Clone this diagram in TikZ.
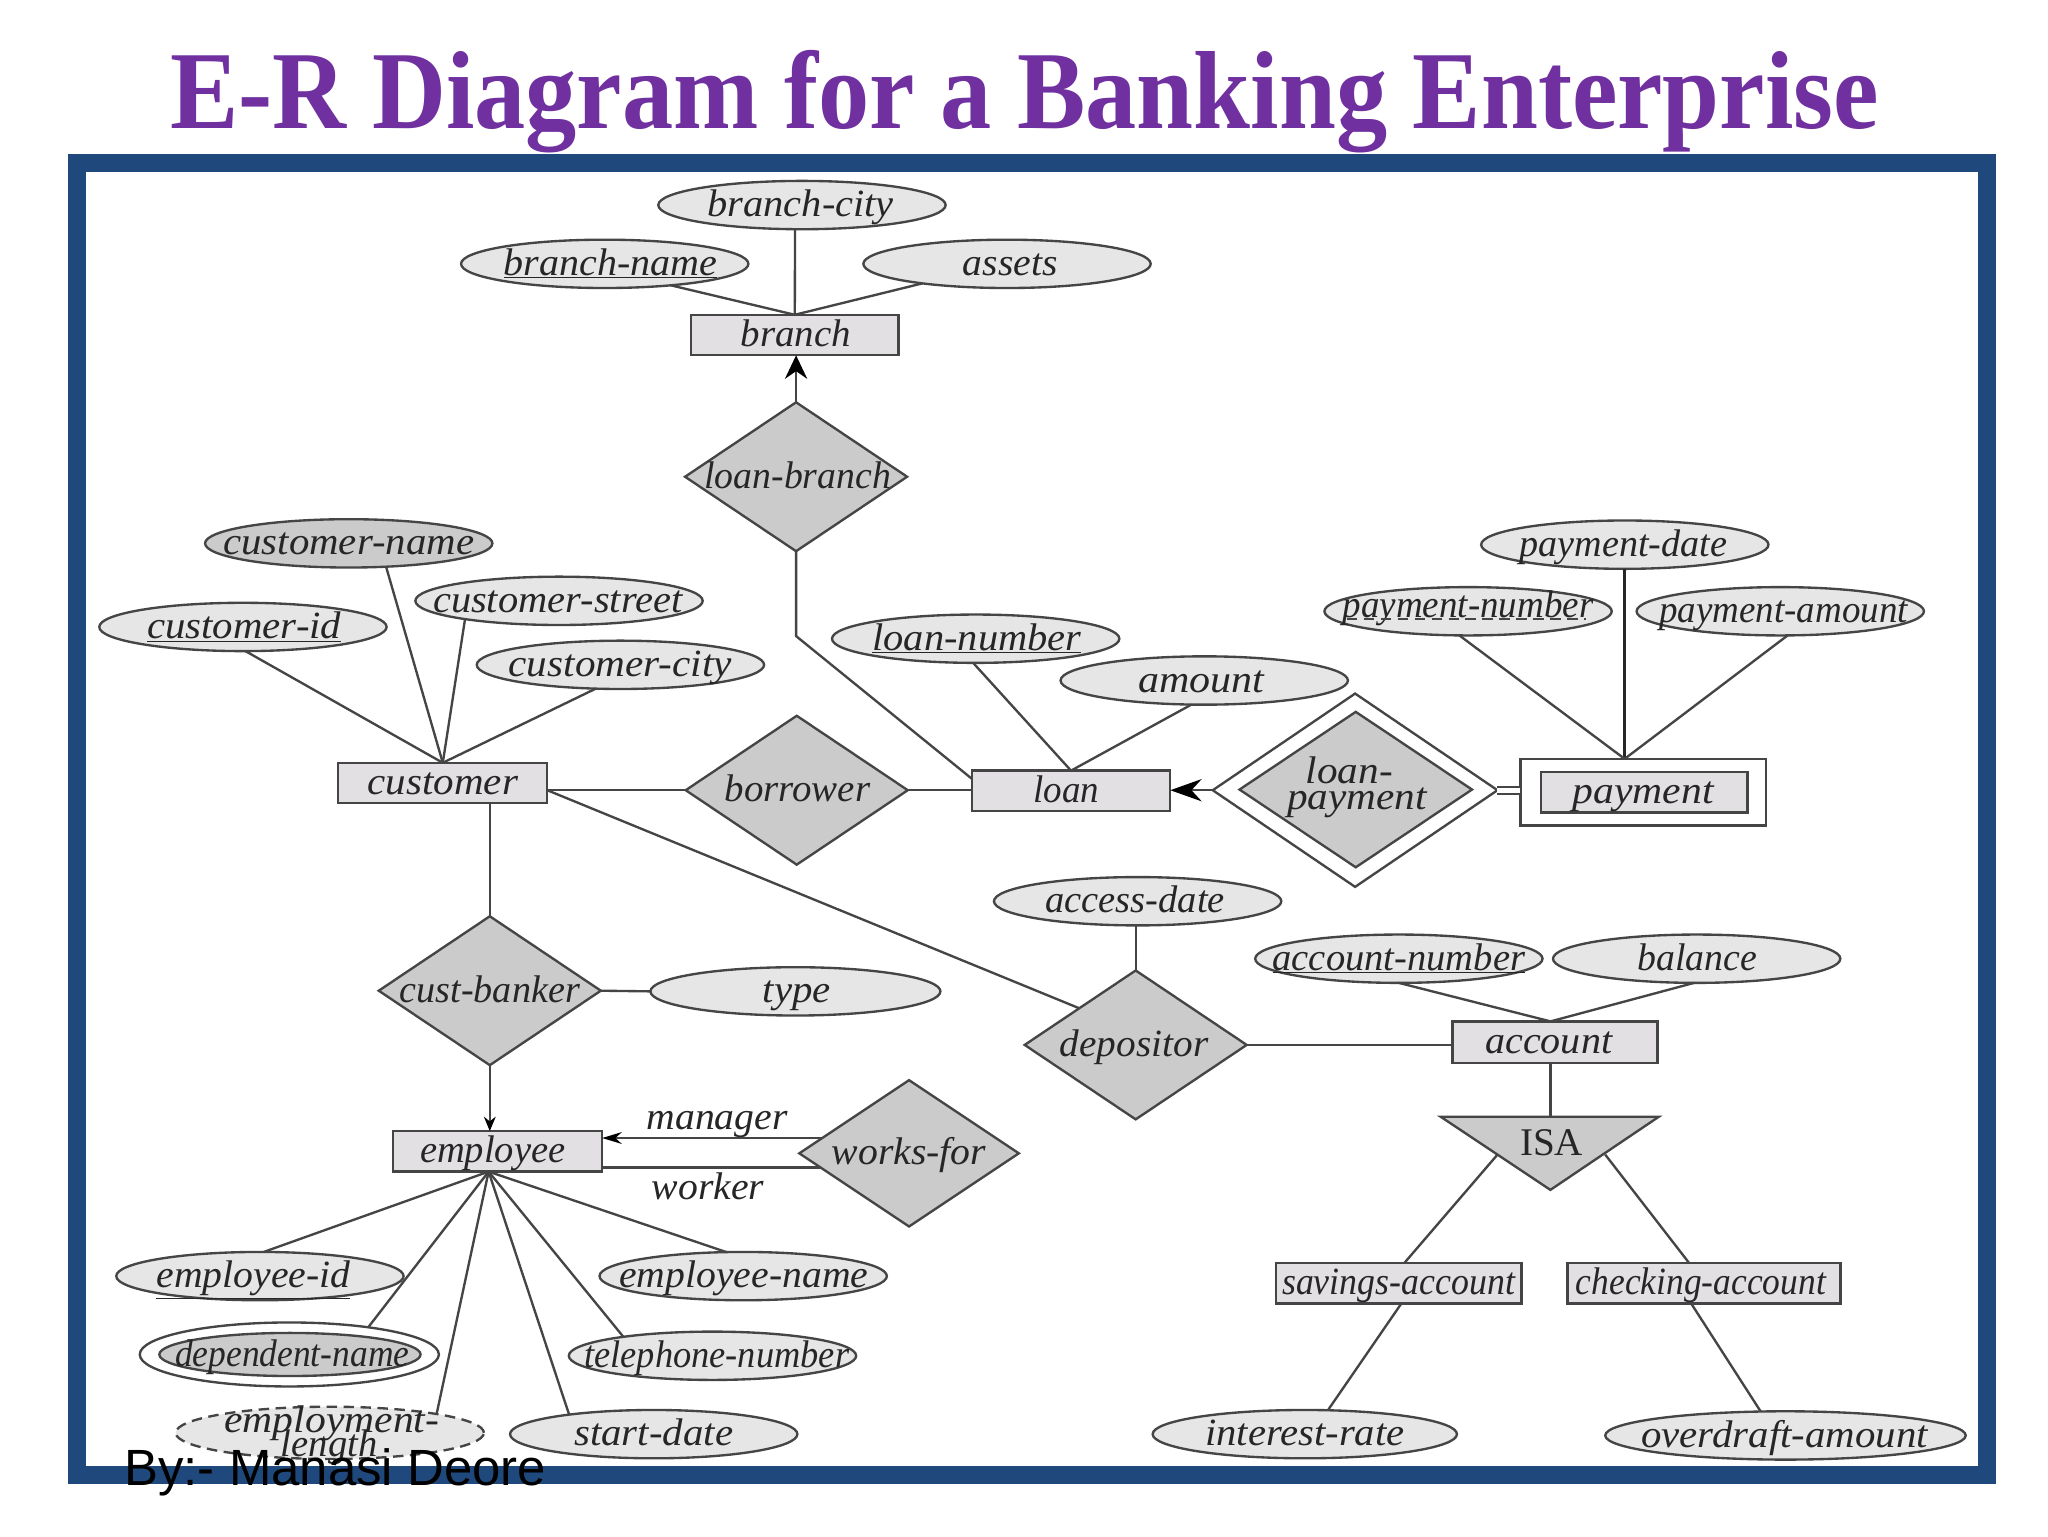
\documentclass[tikz,border=0pt]{standalone}
\usepackage{graphicx}
\usepackage{fontspec}
\setmainfont{Liberation Serif}
\newfontfamily\footfont{Liberation Sans}
\usetikzlibrary{shapes.geometric,arrows.meta,calc}
\definecolor{framecol}{HTML}{1F497D}
\definecolor{titlecol}{HTML}{7030A0}
\definecolor{inkcol}{HTML}{454545}
\definecolor{attrfill}{HTML}{E6E6E6}
\definecolor{entfill}{HTML}{E2E0E2}
\definecolor{relfill}{HTML}{CBCBCB}
% \tl[x offset]{horizontal scale}{text}: a label that adds nothing to the size of its node
\newcommand{\tl}[3][0pt]{\hskip#1\makebox[0pt]{\raisebox{-0.3em}[0pt][0pt]{\scalebox{#2}[1]{#3}}}\hskip-#1\relax}
\tikzset{
  x=1pt,y=-1pt,
  base/.style={draw=inkcol,line width=1.8pt,inner sep=0pt,outer sep=0pt,text=black!85,font=\fontsize{29.5}{22}\selectfont\itshape},
  attr/.style={base,ellipse,fill=attrfill,minimum width=220pt,minimum height=37pt},
  ent/.style={base,rectangle,fill=entfill,minimum height=31pt},
  rel/.style={base,diamond,fill=relfill,minimum width=170pt,minimum height=114pt},
  conn/.style={draw=inkcol,line width=1.8pt},
  longdash/.style={dash pattern=on 8pt off 5pt},
  cap1/.style={text=black!85,inner sep=0pt,font=\fontsize{29.5}{19}\selectfont\itshape},
}
\begin{document}
\begin{tikzpicture}
\useasboundingbox[fill=white] (0,0) rectangle (1568,1176);
\draw[line width=14pt,framecol] (59,125) rectangle (1521.5,1129.5);
\node[anchor=base,inner sep=0pt,text=titlecol,font=\fontsize{85}{90}\selectfont\bfseries] (title) at (784.5,98) {\scalebox{0.922}[1]{E-R Diagram for a Banking Enterprise}};

% attributes
\node[attr] (branchcity) at (614,157) {\tl[-2pt]{1.05}{branch-city}};
\node[attr] (branchname) at (463,202) {\tl[9pt]{1.04}{\underline{branch-name}}};
\node[attr] (assets) at (771,202) {\tl[5pt]{1.03}{assets}};
\node[attr,fill=relfill] (custname) at (267,416) {\tl{1.06}{customer-name}};
\node[attr] (custstreet) at (428,460) {\tl[-2pt]{1.05}{customer-street}};
\node[attr] (custid) at (186,480) {\tl[2pt]{1.06}{\underline{customer-id}}};
\node[attr] (custcity) at (475,509) {\tl{1.07}{customer-city}};
\node[attr] (loannum) at (747,489) {\tl[2pt]{1.05}{\underline{loan-number}}};
\node[attr] (amount) at (922,521) {\tl[-4pt]{1.09}{amount}};
\node[attr] (paydate) at (1244,417) {\tl[-2pt]{0.99}{payment-date}};
\node[attr] (paynum) at (1124,468) {\tl{0.96}{\raisebox{4pt}{payment-number}}};
\node[attr] (payamt) at (1363,468) {\tl[5pt]{0.96}{payment-amount}};
\node[attr] (access) at (871,690) {\tl[-4pt]{1}{access-date}};
\node[attr] (accnum) at (1071,734) {\tl{1}{\underline{account-number}}};
\node[attr] (balance) at (1299,734) {\tl[1pt]{0.98}{balance}};
\node[attr,minimum width=222pt] (type) at (609,759) {\tl[2pt]{1.06}{type}};
\node[attr] (empid) at (199,977) {\tl[-10pt]{1.03}{\underline{employee-id}}};
\node[attr] (empname) at (569,977) {\tl[1pt]{1.03}{employee-name}};
\node[attr] (phone) at (545.5,1038) {\tl[6.5pt]{0.945}{telephone-number}};
\node[attr] (startd) at (500.5,1098) {\tl{1.06}{start-date}};
\node[attr,minimum width=233pt] (interest) at (999,1098) {\tl{1.055}{interest-rate}};
\node[attr,minimum width=276pt] (overdraft) at (1367,1099) {\tl[-1.5pt]{1.06}{overdraft-amount}};
\node[attr,fill=white,minimum width=229pt,minimum height=49pt] (depouter) at (221.5,1037) {};
\node[attr,fill=relfill,minimum width=200pt,minimum height=33pt] (depname) at (222,1037) {\tl[3.5pt]{0.92}{dependent-name}};
\node[attr,longdash,minimum width=236pt,minimum height=40pt] (emplen) at (252.5,1097) {};
\node[cap1,anchor=base] (emp1) at (254,1097) {\scalebox{1.08}[1]{employment-}};
\node[cap1,anchor=base] (emp2) at (252,1115) {length};
\draw[conn,longdash] ($(paynum.center)+(-93,6)$) -- ($(paynum.center)+(90,6)$);

% entities
\node[ent,minimum width=159pt] (branch) at (608.5,256.5) {\tl[1.5pt]{1.01}{branch}};
\node[ent,minimum width=160pt] (customer) at (339,599.5) {\tl{1.065}{customer}};
\node[ent,minimum width=152pt] (loan) at (820,605.5) {\tl[-7pt]{0.96}{loan}};
\node[ent,minimum width=160pt] (employee) at (381,881.5) {\tl[-7.5pt]{1}{employee}};
\node[ent,minimum width=157pt,minimum height=32pt] (account) at (1190.5,798) {\tl[-9.5pt]{1.04}{account}};
\node[ent,minimum width=188pt] (savings) at (1071,982.5) {\tl[-0.5pt]{0.93}{savings-account}};
\node[ent,minimum width=209pt] (checking) at (1304.5,982.5) {\tl[-4.5pt]{0.92}{checking-account}};
\node[ent,fill=white,minimum width=188pt,minimum height=51pt] (payouter) at (1258,606.5) {};
\node[ent,minimum width=158pt] (payment) at (1259,606.5) {\tl[-2pt]{1.08}{payment}};

% relationships
\node[rel] (loanbranch) at (609.5,365) {\tl[2.5pt]{0.98}{loan-branch}};
\node[rel] (borrower) at (610,605) {\tl[1pt]{1.01}{borrower}};
\node[rel] (custbanker) at (375,758.5) {\tl{0.99}{cust-banker}};
\node[rel] (depositor) at (869.5,800) {\tl[-2.5pt]{1.02}{depositor}};
\node[rel,minimum width=168pt,minimum height=112pt] (worksfor) at (696,883) {\tl{1.03}{works-for}};
\node[rel,fill=white,minimum width=218pt,minimum height=148pt] (lpouter) at (1037.5,605) {};
\node[rel,minimum width=178pt,minimum height=119pt] (lpinner) at (1038,604.5) {};
\node[cap1,anchor=base] (lp1) at (1033,600) {\scalebox{1.07}[1]{loan-}};
\node[cap1,anchor=base] (lp2) at (1039,620) {\scalebox{1.07}[1]{payment}};

% ISA triangle
\coordinate (isaL) at (1103,855);
\coordinate (isaR) at (1270,855);
\coordinate (isaB) at (1187,911);
\coordinate (isaT) at (1187,855);
\coordinate (isaLm) at (1146.5,884);
\coordinate (isaRm) at (1229,884);
\draw[conn,fill=relfill,line join=miter] (isaL) -- (isaR) -- (isaB) -- cycle;
\node[inner sep=0pt,text=black!85,font=\fontsize{30}{30}\selectfont] (isa) at (1188,875) {ISA};

% labels
\node[cap1] (manager) at (549,861) {\scalebox{1.03}[1]{manager}};
\node[cap1] (worker) at (542,908) {\scalebox{1.03}[1]{worker}};

% connectors
\draw[conn] (branchcity.254.5) -- (branch.north);
\draw[conn] (branchname.342) -- (branch.north);
\draw[conn] (assets.193) -- (branch.north);
\draw[conn,-{Stealth[length=18pt,width=17pt,color=black]}] (loanbranch.north) -- (loanbranch.north |- branch.south);
\coordinate (lbbend) at (609.5,487);
\draw[conn] (loanbranch.south) -- (lbbend) -- (loan.173.6);
\draw[conn] (custid.276) -- (customer.north);
\draw[conn] (custname.328) -- (customer.north);
\draw[conn] (custstreet.191) -- (customer.north);
\draw[conn] (custcity.224.5) -- (customer.north);
\draw[conn] (borrower.west) -- (borrower.west -| customer.east);
\draw[conn] (borrower.east) -- (borrower.east -| loan.west);
\draw[conn] (loannum.264) -- (loan.north);
\draw[conn] (amount.242) -- (loan.north);
\draw[conn,-{Stealth[length=24pt,width=17pt,color=black]}] (lpouter.west) -- (lpouter.west -| loan.east);
\draw[conn,double=white,double distance=3.5pt] (lpouter.east) -- (lpouter.east -| payouter.west);
\draw[conn,line width=2.5pt,black!85] (paydate.south) -- (paydate.south |- payouter.north);
\draw[conn] (paynum.250) -- (payouter.119);
\draw[conn] (payamt.287.5) -- (payouter.119);
\draw[conn] (customer.east |- borrower.west) -- (depositor.147);
\draw[conn] (custbanker.north) -- (custbanker.north |- customer.south);
\draw[conn,-{Stealth[length=11pt,width=9pt,color=black]}] (custbanker.south) -- (custbanker.south |- employee.north);
\draw[conn] (custbanker.east) -- (type.west);
\draw[conn] (depositor.north) -- (depositor.north |- access.south);
\draw[conn] (depositor.east) -- (depositor.east -| account.west);
\draw[conn] (accnum.270) -- (account.102);
\draw[conn] (balance.264) -- (account.102);
\draw[conn] (isaT) -- (isaT |- account.south);
\draw[conn] (isaLm) -- (savings.75.5);
\draw[conn] (isaRm) -- (checking.126.6);
\draw[conn] (savings.277) -- (interest.46.6);
\draw[conn] (checking.238.5) -- (overdraft.136.6);
\draw[conn,-{Stealth[length=15pt,width=9pt,color=black]}] (worksfor.170.7) -- (worksfor.170.7 -| employee.east);
\draw[conn] (worksfor.189.3) -- (worksfor.189.3 -| employee.east);
\draw[conn] (empid.81) -- (employee.246);
\draw[conn] (depouter.19.4) -- (employee.246);
\draw[conn] (emplen.10.5) -- (employee.246);
\draw[conn] (startd.167.5) -- (employee.246);
\draw[conn] (phone.168) -- (employee.246);
\draw[conn] (empname.125) -- (employee.246);

% footer
\node[anchor=base west,inner sep=0pt,font=\footfont\fontsize{39}{40}\selectfont,text=black] (by) at (95,1137) {By:- Manasi Deore};
\end{tikzpicture}
\end{document}
